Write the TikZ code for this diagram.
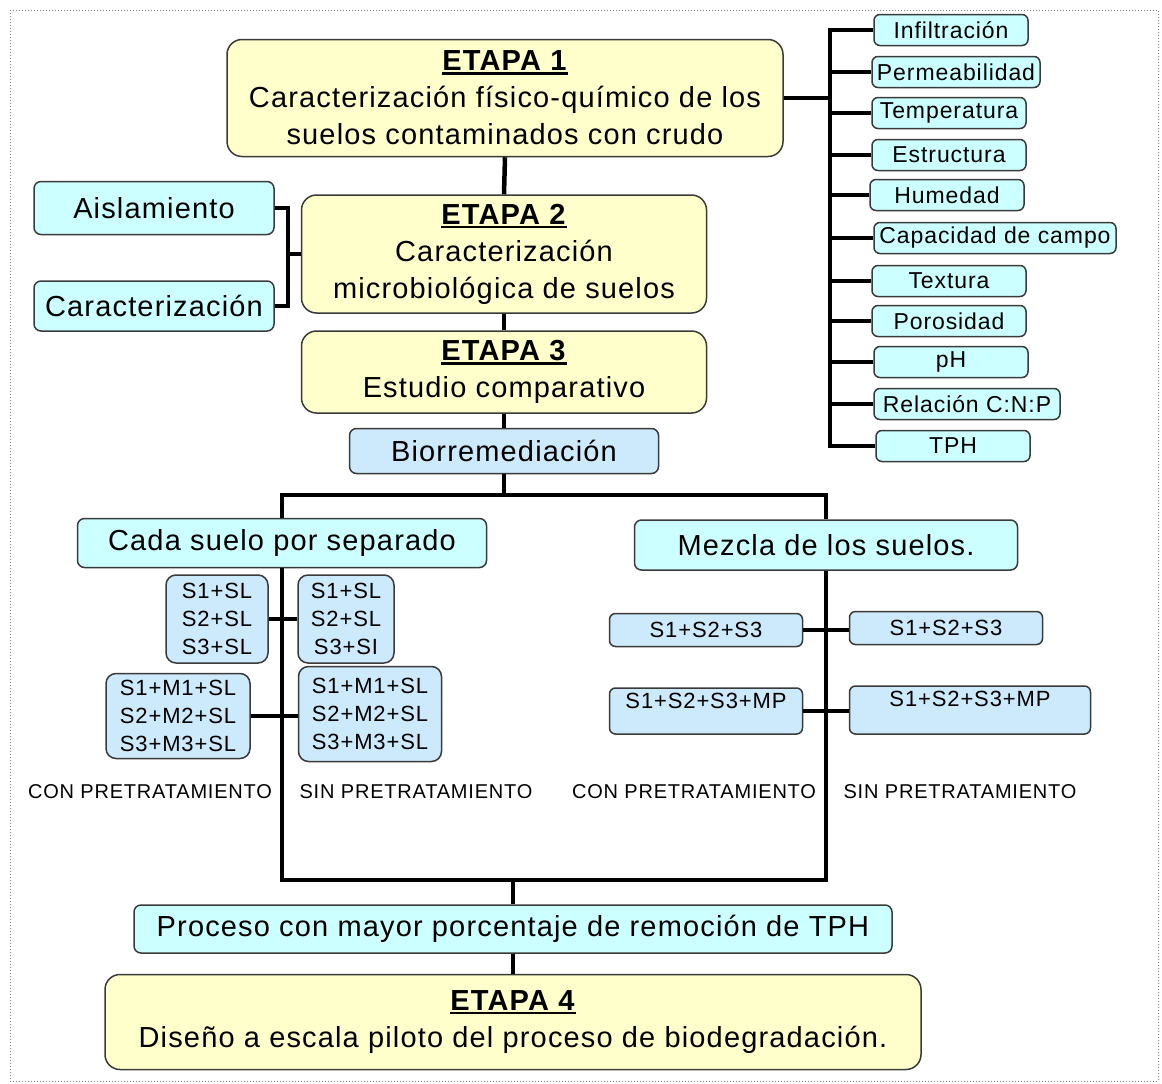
\documentclass[tikz,border=0pt]{standalone}
\usepackage{fontspec}
\setmainfont[LetterSpace=4]{Liberation Sans}
\usetikzlibrary{positioning, calc}
\definecolor{stagefill}{HTML}{FFFFCC}
\definecolor{itemfill}{HTML}{CCFFFF}
\definecolor{samplefill}{HTML}{CCEAFC}
\definecolor{boxline}{HTML}{3A3A3A}
\definecolor{framegray}{HTML}{808080}

\newcommand{\etapa}[1]{\setbox0\hbox{\textbf{ETAPA #1}}\leavevmode\rlap{\rule[-4pt]{\wd0}{2.5pt}}\box0}

\begin{document}
\begin{tikzpicture}[x=1pt, y=-1pt,
  box/.style={draw=boxline, line width=1.5pt, align=center, inner sep=0pt},
  stage/.style={box, fill=stagefill, rounded corners=15pt, font=\fontsize{29}{37}\selectfont},
  item/.style={box, fill=itemfill, rounded corners=6pt, minimum height=31pt, font=\fontsize{23}{28}\selectfont},
  bigitem/.style={box, fill=itemfill, rounded corners=7pt, font=\fontsize{29}{37}\selectfont},
  sample/.style={box, fill=samplefill, rounded corners=10pt, font=\fontsize{22}{28}\selectfont},
  note/.style={font=\fontsize{20}{22}\selectfont, inner sep=0pt},
  link/.style={line width=4.5pt, black}]
  \useasboundingbox (0,0) rectangle (1162,1084);
  \draw[dotted, framegray, line width=1pt] (10,10) rectangle (1158,1081);

  % etapas
  \node[stage, minimum width=556pt, minimum height=117pt] (e1) at (505,98)
    {\etapa{1}\\Caracterización físico-químico de los\\suelos contaminados con crudo};
  \node[stage, minimum width=405pt, minimum height=118pt] (e2) at (504,254)
    {\etapa{2}\\Caracterización\\microbiológica de suelos};
  \node[stage, minimum width=405pt, minimum height=82pt] (e3) at (504,372)
    {\etapa{3}\\Estudio comparativo};
  \node[box, fill=samplefill, rounded corners=7pt, minimum width=309pt, minimum height=45pt,
    font=\fontsize{29}{36}\selectfont] (bio) at (504,451) {Biorremediación};

  % parametros de la etapa 1
  \foreach \n/\t/\cx/\cy/\w in {inf/Infiltración/951/30/154, per/Permeabilidad/956/72/168,
      tem/Temperatura/949/113/154, est/Estructura/949/155/154, hum/Humedad/947/195/154,
      cap/Capacidad de campo/995/238/242, tex/Textura/949/281/154, por/Porosidad/949/321/154,
      ph/pH/951/362/154, rel/Relación C:N:P/967/404/186, tph/TPH/953/446/154}
    \node[item, minimum width=\w pt] (\n) at (\cx,\cy) {\t};

  \coordinate (rbar) at (830,0);
  \draw[link] (e1.east) -- (e1.east -| rbar);
  \draw[link] (inf.west) -| (tph.west -| rbar) -- (tph.west);
  \foreach \n in {per, tem, est, hum, cap, tex, por, ph, rel}
    \draw[link] (\n.west -| rbar) -- (\n.west);

  % etapa 2
  \node[bigitem, minimum width=240pt, minimum height=53pt] (ais) at (154,208) {Aislamiento};
  \node[bigitem, minimum width=240pt, minimum height=50pt] (car) at (154,306) {Caracterización};
  \coordinate (lbar) at (288,0);
  \draw[link] (ais.east) -| (car.east -| lbar) -- (car.east);
  \draw[link] (e2.west) -- (e2.west -| lbar);

  \draw[link] (e1.south) -- (e2.north);
  \draw[link] (e2.south) -- (e3.north);
  \draw[link] (e3.south) -- (bio.north);

  % ramas
  \node[bigitem, minimum width=409pt, minimum height=49pt] (cada) at (282,543) {Cada suelo por separado};
  \node[bigitem, minimum width=383pt, minimum height=50pt] (mez) at (826,545) {Mezcla de los suelos.};
  \coordinate (split) at (504,495);
  \draw[link] (bio.south) -- (split);
  \draw[link] (cada.north) |- (split) -| (mez.north);

  % ensayos
  \node[sample, minimum width=102pt, minimum height=88pt] (sa) at (217,619) {S1+SL\\S2+SL\\S3+SL};
  \node[sample, minimum width=96pt, minimum height=88pt] (sb) at (346,619) {S1+SL\\S2+SL\\S3+SI};
  \node[sample, minimum width=144pt, minimum height=85pt] (sc) at (178,716) {S1+M1+SL\\S2+M2+SL\\S3+M3+SL};
  \node[sample, minimum width=143pt, minimum height=95pt] (sd) at (370,714) {S1+M1+SL\\S2+M2+SL\\S3+M3+SL};
  \node[sample, rounded corners=6pt, minimum width=193pt, minimum height=33pt] (se) at (706,630) {S1+S2+S3};
  \node[sample, rounded corners=6pt, minimum width=193pt, minimum height=33pt] (sf) at (946,628) {S1+S2+S3};
  \node[sample, rounded corners=6pt, minimum width=193pt, minimum height=46pt, text depth=20pt] (sg) at (706,711) {S1+S2+S3+MP};
  \node[sample, rounded corners=6pt, minimum width=241pt, minimum height=48pt, text depth=22pt] (sh) at (970,710) {S1+S2+S3+MP};

  \draw[link] (sa.east) -- (sb.west);
  \draw[link] (sc.east) -- (sd.west |- sc.east);
  \draw[link] (se.east) -- (sf.west |- se.east);
  \draw[link] (sg.east) -- (sh.west |- sg.east);

  \node[note] (lab1) at (150,792) {CON PRETRATAMIENTO};
  \node[note] (lab2) at (416,792) {SIN PRETRATAMIENTO};
  \node[note] (lab3) at (694,792) {CON PRETRATAMIENTO};
  \node[note] (lab4) at (960,792) {SIN PRETRATAMIENTO};

  % resultado
  \node[bigitem, minimum width=758pt, minimum height=48pt] (proc) at (513,929)
    {Proceso con mayor porcentaje de remoción de TPH};
  \node[stage, minimum width=816pt, minimum height=95pt] (e4) at (513,1022)
    {\etapa{4}\\Diseño a escala piloto del proceso de biodegradación.};
  \coordinate (join) at (513,880);
  \draw[link] (cada.south) |- (join) -| (mez.south);
  \draw[link] (join) -- (proc.north);
  \draw[link] (proc.south) -- (e4.north);
\end{tikzpicture}
\end{document}
